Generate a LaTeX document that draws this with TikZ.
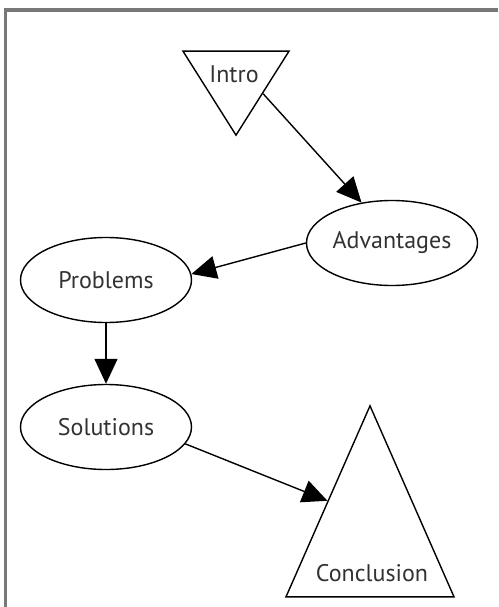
\documentclass[tikz,border=0pt]{standalone}
\usepackage{fontspec}
\setmainfont{PT Sans}
\usepackage{tikz}
\usetikzlibrary{shapes.geometric,arrows.meta}
\definecolor{framegray}{RGB}{120,120,120}
\definecolor{textgray}{RGB}{50,50,50}

\begin{document}
\begin{tikzpicture}[x=1pt, y=-1pt,
  topic/.style={draw=black, line width=1.4pt, ellipse, minimum width=171pt, minimum height=85pt, inner sep=0pt, text=textgray, font=\fontsize{24}{28}\selectfont},
  tri/.style={draw=black, line width=1.4pt, isosceles triangle, isosceles triangle stretches, inner sep=0pt},
  caption/.style={draw=none, text=textgray, font=\fontsize{24}{28}\selectfont},
  link/.style={-{Triangle[length=25pt,width=23pt]}, line width=1.4pt}]

% the page is as large as the screenshot (1pt = 1 pixel, y runs downwards)
\useasboundingbox (0,0) rectangle (498,607);

% grey frame along the top and the left edge
\draw[framegray, line width=3.5pt] (5.5,607) -- (5.5,10) -- (498,10);

% triangles: "Intro" points down, "Conclusion" points up
% the label sits in the wide part, so it is its own node
\node[tri, shape border rotate=-90, minimum width=106pt, minimum height=84pt, anchor=apex] (intro) at (236,137) {};
\node[caption] (intro label) at (234,74) {Intro};
\node[tri, shape border rotate=90, minimum width=168pt, minimum height=191pt, anchor=apex] (concl) at (370,404) {};
\node[caption] (concl label) at (372,573) {Conclusion};

% ellipses
\node[topic] (adv) at (392,243) {Advantages};
\node[topic] (prob) at (106,280) {Problems};
\node[topic] (sol) at (106,427) {Solutions};

% connectors, from node to node
\draw[link] (intro.left side) -- (adv.127);
\draw[link] (adv.west) -- (prob.4);
\draw[link] (prob.south) -- (sol.north);
\draw[link] (sol.-12) -- (concl.left side);
\end{tikzpicture}
\end{document}
